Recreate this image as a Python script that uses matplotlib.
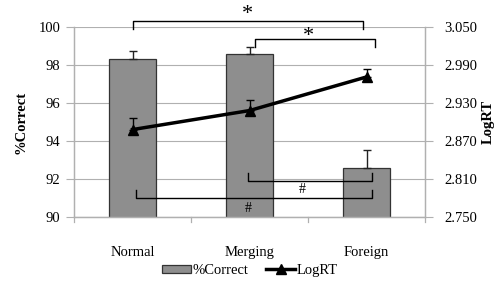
import matplotlib
matplotlib.use("Agg")
import matplotlib.pyplot as plt
from matplotlib.lines import Line2D
from matplotlib.patches import Patch
import numpy as np

plt.rcParams['font.family'] = ['Liberation Serif', 'DejaVu Serif']

# data
categories = ['Normal', 'Merging', 'Foreign']
pct_correct = [98.32, 98.6, 92.57]
pct_err = [0.42, 0.33, 0.98]
log_rt = [2.888, 2.918, 2.971]
log_rt_err = [0.019, 0.016, 0.013]

GRID = '#b0b0b0'
BAR = '#8e8e8e'

fig = plt.figure(figsize=(5, 2.83), dpi=100)
ax = fig.add_axes([0.148, 0.233, 0.702, 0.672])
x = np.arange(len(categories))

ax.bar(x, pct_correct, width=0.4, color=BAR, edgecolor='#333333', linewidth=0.9,
       yerr=[[0, 0, 0], pct_err], error_kw=dict(ecolor='#222222', elinewidth=1.0, capsize=3, capthick=1.0),
       zorder=2)
ax.set_ylim(90, 100)
ax.set_xlim(-0.5, 2.5)
ax.set_yticks(np.arange(90, 101, 2))
ax.set_xticks(x)
ax.set_xticklabels(categories, fontsize=10.5)
ax.tick_params(axis='x', length=0, pad=21)
ax.tick_params(axis='y', length=6, color=GRID, labelsize=10.5, pad=4)
ax.grid(axis='y', color=GRID, linewidth=0.8, zorder=0)
ax.set_axisbelow(True)
for s in ax.spines.values():
    s.set_color(GRID)
    s.set_linewidth(0.9)
ax.spines['top'].set_visible(False)
ax.set_ylabel('%Correct', fontsize=10.5, fontweight='bold', labelpad=8)
# small x tick marks between categories
for xb in [-0.5, 0.5, 1.5, 2.5]:
    ax.plot([xb, xb], [90, 89.75], color=GRID, lw=0.9, clip_on=False)

ax2 = ax.twinx()
ax2.errorbar(x, log_rt, yerr=[[0, 0, 0], log_rt_err], color='black', linewidth=2.5,
             marker='^', markersize=7, ecolor='black', elinewidth=1.0, capsize=3,
             capthick=1.0, zorder=3)
ax2.set_ylim(2.75, 3.05)
ax2.set_yticks(np.arange(2.75, 3.051, 0.06))
ax2.set_yticklabels(['%.3f' % v for v in np.arange(2.75, 3.051, 0.06)])
ax2.tick_params(axis='y', length=6, color=GRID, labelsize=10.5, pad=8)
for s in ax2.spines.values():
    s.set_color(GRID)
    s.set_linewidth(0.9)
ax2.spines['top'].set_visible(False)
ax2.set_ylabel('LogRT', fontsize=10.5, fontweight='bold', labelpad=3)

# significance brackets (left axis data coords)
def bracket(x0, x1, y, y_end, label, ly, lx, fs):
    ax.plot([x0, x0, x1, x1], [y_end, y, y, y_end], color='black', lw=1.0, clip_on=False, zorder=5)
    ax.text(lx, ly, label, ha='center', va='center', fontsize=fs, clip_on=False)

bracket(0.0, 1.97, 100.31, 99.9, '*', 100.65, 0.98, 16)
bracket(1.05, 2.07, 99.37, 98.95, '*', 99.5, 1.5, 16)
bracket(0.99, 2.05, 91.9, 92.3, '#', 91.47, 1.45, 10)
bracket(0.03, 2.05, 91.0, 91.42, '#', 90.45, 0.99, 10)

handles = [Patch(facecolor=BAR, edgecolor='#333333', linewidth=0.9),
           Line2D([], [], color='black', lw=2.5, marker='^', markersize=7)]
fig.legend(handles, ['%Correct', 'LogRT'], loc='lower center', bbox_to_anchor=(0.5, -0.025), ncol=2,
           frameon=False, fontsize=10.5, handlelength=2.0, handleheight=0.5,
           handletextpad=0.1, columnspacing=1.2)

fig.savefig('out.png', dpi=100)
